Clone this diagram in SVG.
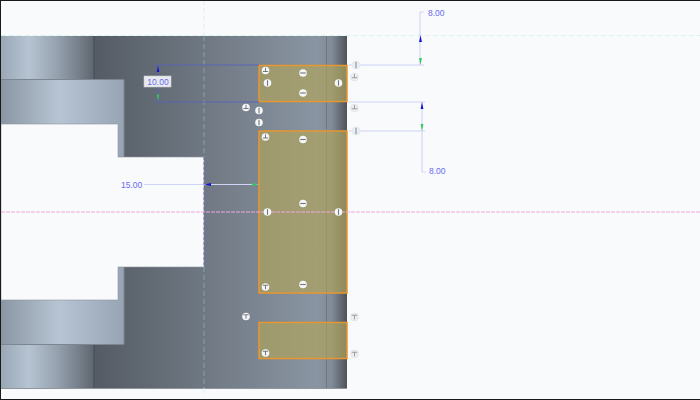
<svg xmlns="http://www.w3.org/2000/svg" width="700" height="400" viewBox="0 0 700 400">
<style>
text{font-family:"Liberation Sans",Arial,sans-serif;font-size:8.5px;fill:#6a6af0}
.dim{stroke:#d0d4f6;stroke-width:1.100;fill:none}
.ext{stroke:#5a64b4;stroke-width:1;fill:none}
.sel{fill:#b0a45a;fill-opacity:.66;stroke:#e8962e;stroke-width:1.500}
.cl{stroke:#86aeb0;stroke-width:.8;stroke-dasharray:5 3;fill:none}
.clp{stroke:#d6eeea;stroke-width:.8;stroke-dasharray:5 3;fill:none}
.pk{stroke:#f0a8dc;stroke-width:1.200;stroke-dasharray:4 1;fill:none}
.edge{stroke:#7c8590;stroke-width:1;fill:none}
.c{fill:#f4f6f8}.b{fill:#73787f}
.g{fill:#eceef0;stroke:#dcdee1;stroke-width:.5}
.up{fill:#1414d8}.gr{fill:#2ecc60}
</style>
<defs>
<linearGradient id="body" x1="94" x2="347" y1="0" y2="0" gradientUnits="userSpaceOnUse">
<stop offset="0" stop-color="#545b64"/><stop offset=".5" stop-color="#737c87"/><stop offset=".88" stop-color="#8995a2"/><stop offset=".94" stop-color="#808b97"/><stop offset="1" stop-color="#4e535a"/>
</linearGradient>
<linearGradient id="cyl" x1="1" x2="94" y1="0" y2="0" gradientUnits="userSpaceOnUse">
<stop offset="0" stop-color="#9aa7b5"/><stop offset=".3" stop-color="#b6c3d2"/><stop offset=".6" stop-color="#96a2af"/><stop offset="1" stop-color="#5f6670"/>
</linearGradient>
<linearGradient id="fl" x1="1" x2="124" y1="0" y2="0" gradientUnits="userSpaceOnUse">
<stop offset="0" stop-color="#8a96a3"/><stop offset=".47" stop-color="#b7c4d3"/><stop offset="1" stop-color="#97a4b3"/>
</linearGradient>
<g id="m"><circle r="3.800" class="c"/><rect x="-2.800" y="-.55" width="5.600" height="1.100" class="b"/></g>
<g id="i"><circle r="3.800" class="c"/><rect x="-.55" y="-2.800" width="1.100" height="5.600" class="b"/></g>
<g id="t"><circle r="3.800" class="c"/><path d="M-.5-2.800h1v3.300h2.100v1h-5.200v-1h2.100z" class="b"/></g>
<g id="v"><circle r="3.800" class="c"/><path d="M-2.600-2.300h5.200v1h-2.100v3.500h-1v-3.500h-2.100z" class="b"/></g>
<g id="gt"><circle r="4" class="g"/><path d="M-.5-3h1v3.300h2.300v1h-5.600v-1h2.300z" fill="#9a9da2"/></g>
<g id="gv"><circle r="4" class="g"/><path d="M-2.800-2.300h5.600v1h-2.300v3.500h-1v-3.500h-2.300z" fill="#9a9da2"/></g>
<g id="gi"><circle r="4" class="g"/><rect x="-.6" y="-3.200" width="1.200" height="6.400" fill="#7f9fb2"/></g>
</defs>
<rect width="700" height="400" fill="#f8fafc"/>
<g id="part">
<rect x="94" y="36" width="253" height="352.500" fill="url(#body)"/>
<rect x="1" y="36" width="93" height="352.500" fill="url(#cyl)"/>
<path d="M94 36V388" stroke="#4d535b" stroke-width="1.500"/>
<rect x="1" y="80" width="123" height="265" fill="url(#fl)"/>
<path d="M1 79.500H124V344.500H1" class="edge"/>
<path d="M326.500 36V388" stroke="#69727c" stroke-width=".8"/>
<path d="M1 124H118V157H204V267H118V300H1Z" fill="#f8fafc" stroke="#8d949c" stroke-width=".6"/>
<path d="M1 388.500H347" stroke="#8f969e" stroke-width="1"/>
</g>
<g id="faces">
<rect id="face-top" x="259" y="65.500" width="88" height="36" class="sel"/>
<rect id="face-mid" x="259" y="131" width="88" height="162" class="sel"/>
<rect id="face-low" x="259" y="322.500" width="88" height="36" class="sel"/>
</g>
<g id="centerlines">
<path d="M204 0V36M204 388V397" class="clp"/>
<path d="M204 36V157M204 267V388" class="cl"/>
<path d="M1 35.500H700" class="clp"/>
<path d="M1 212H700" class="pk"/>
</g>
<g id="connectors">
<path d="M154 65H259M154 102H259" class="ext"/>
<path d="M158 66V76M158 87V101" class="ext"/>
<path d="M349 65H424M349 102H425M349 131H425" class="dim"/>
<path d="M420 12V65M422 172V102M420 12H424M422 172H426" class="dim"/>
<path d="M144 184.500H258" class="dim"/>
<path d="M204 157V267" stroke="#5a64b4" stroke-width=".8" stroke-dasharray="3 2"/>
<path d="M158 65.500l1.300 6.500h-2.600z" class="up"/>
<path d="M158 101l1.300-6.500h-2.600z" class="gr"/>
<path d="M420.500 35l1.400 7h-2.800z" class="up"/>
<path d="M420.500 65l1.400-7h-2.800z" class="gr"/>
<path d="M422 102l1.400 7h-2.800z" class="up"/>
<path d="M422 131l1.400-7h-2.800z" class="gr"/>
<path d="M204.500 184.500l6.500-1.400v2.800z" class="up"/>
<path d="M258.500 184.500l-6.500-1.400v2.800z" class="gr"/>
</g>
<g id="dim-10"><rect x="144" y="76" width="27" height="11" fill="#e8eaee" stroke="#c9ccd1" stroke-width=".6"/><text x="158" y="84.500" text-anchor="middle">10.00</text></g>
<g id="dim-8a"><text x="428" y="16">8.00</text></g>
<g id="dim-8b"><text x="429" y="174">8.00</text></g>
<g id="dim-15"><text x="121" y="188">15.00</text></g>
<g id="marks">
<use href="#t" x="265.500" y="70.500"/><use href="#m" x="303" y="73"/><use href="#i" x="267.500" y="83"/><use href="#i" x="338.500" y="83"/><use href="#m" x="303" y="93"/>
<use href="#t" x="246" y="107.500"/><use href="#i" x="259" y="110.500"/><use href="#i" x="259" y="122.500"/>
<use href="#t" x="265.500" y="137"/><use href="#m" x="303" y="139.500"/>
<use href="#m" x="303" y="203.500"/><use href="#i" x="267.500" y="212"/><use href="#i" x="338.500" y="212"/>
<use href="#v" x="265.500" y="287"/><use href="#m" x="303" y="284.500"/>
<use href="#v" x="246" y="316.500"/><use href="#v" x="265.500" y="353"/>
<use href="#gi" x="356" y="65"/><use href="#gt" x="354.500" y="77"/><use href="#gt" x="354.500" y="108"/><use href="#gi" x="356" y="131"/>
<use href="#gv" x="354.500" y="317"/><use href="#gv" x="354.500" y="354"/>
</g>
<g id="frame"><path d="M0 .5H700M.5 0V400M0 399.500H700" stroke="#1a1a1a" stroke-width="1" fill="none"/></g>
</svg>
